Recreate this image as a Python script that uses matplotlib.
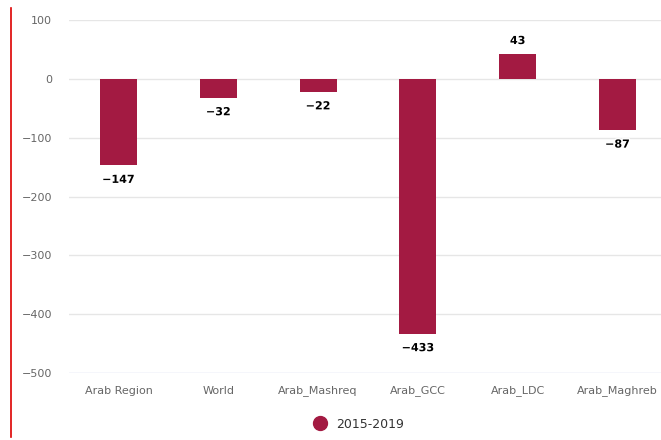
import matplotlib
matplotlib.use("Agg")
import matplotlib.pyplot as plt
from matplotlib.lines import Line2D
import matplotlib.patheffects as pe

categories = ["Arab Region", "World", "Arab_Mashreq", "Arab_GCC", "Arab_LDC", "Arab_Maghreb"]
values = [-147, -32, -22, -433, 43, -87]
series_name = "2015-2019"
yticks = [100, 0, -100, -200, -300, -400, -500]

bar_color = "#a31a42"
W, H = 661, 440

fig = plt.figure(figsize=(W / 100, H / 100), dpi=100)
fig.patch.set_facecolor("white")

# plot area in pixel coords (right edge runs past the figure, as in the reference)
left, right, top, bottom = 68.6, 667.4, 20, 373
ax = fig.add_axes([left / W, 1 - bottom / H, (right - left) / W, (bottom - top) / H])

x = range(len(categories))
ax.bar(x, values, width=0.37, color=bar_color, zorder=3)

ax.set_xlim(-0.5, len(categories) - 0.5)
ax.set_ylim(-500, 100)
ax.set_yticks(yticks)
ax.set_yticklabels([f"{v:d}".replace("-", "\u2212") for v in yticks])
ax.set_xticks(list(x))
ax.set_xticklabels(categories)

for y in yticks[:-1]:
    ax.axhline(y, color="#e6e6e6", lw=1, zorder=1)
ax.axhline(-500, color="#ccd6eb", lw=1, zorder=2)

for s in ax.spines.values():
    s.set_visible(False)
ax.tick_params(axis="both", length=0, colors="#666666", labelsize=8)
ax.tick_params(axis="y", pad=12)
ax.tick_params(axis="x", pad=9)

for xi, v in zip(x, values):
    off = 9 if v > 0 else -10.5
    ax.annotate(f"{v:d}".replace("-", "\u2212"), (xi, v), xytext=(0, off),
                textcoords="offset points", ha="center", va="center",
                fontsize=8, fontweight="bold", color="black", zorder=4,
                path_effects=[pe.withStroke(linewidth=2, foreground="white")])

# red vertical line at far left
fig.add_artist(Line2D([10.5 / W, 10.5 / W], [1 - 8 / H, 1 - 437 / H],
                      color="#dd0000", lw=1.2))

handle = Line2D([], [], marker="o", ls="none", color=bar_color, markersize=10)
fig.legend([handle], [series_name], loc="center", bbox_to_anchor=(356 / W, 1 - 424 / H),
           frameon=False, fontsize=9, handletextpad=0.3, labelcolor="#333333")

fig.savefig("out.png", dpi=100)
